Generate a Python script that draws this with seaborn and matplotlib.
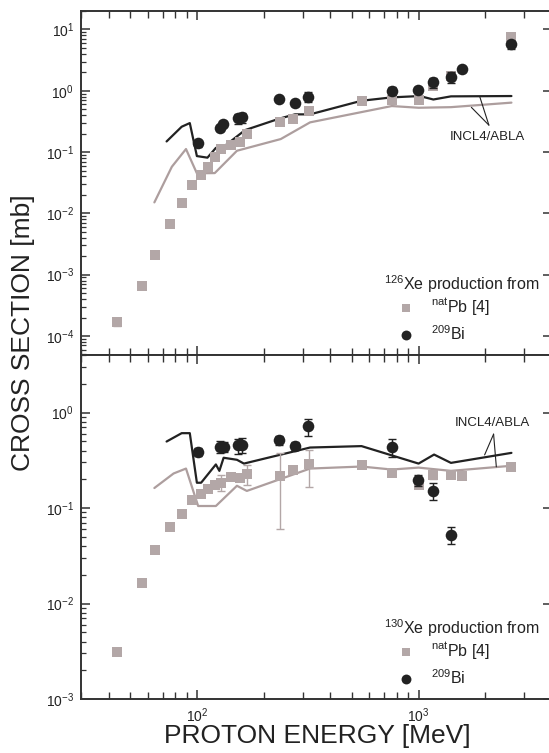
import numpy as np
import matplotlib
matplotlib.use("Agg")
import matplotlib.pyplot as plt
import matplotlib.ticker as mticker
import seaborn as sns

# ---- data ----
# 126Xe (top panel)
pb126_e = [43.5, 56.3, 64.7, 75.5, 85.8, 95.3, 104, 112, 120.4, 128, 142.6, 156, 169,
           237.5, 272, 320, 553, 757, 1000, 1166, 1400, 2624]
pb126_s = [1.67e-4, 6.5e-4, 2.06e-3, 6.8e-3, 0.0147, 0.0286, 0.042, 0.057, 0.082, 0.112,
           0.130, 0.146, 0.199, 0.309, 0.341, 0.467, 0.687, 0.705, 0.705, 1.19, 1.76, 7.6]
pb126_err = [0.2e-4, 0, 0, 0, 0, 0, 0, 0, 0, 0, 0, 0, 0, 0, 0, 0, 0, 0.08, 0, 0.12, 0.2, 1.0]

bi126_e = [101, 127, 131.5, 153, 159, 234, 276, 317, 760, 996, 1166, 1406, 1574, 2624]
bi126_s = [0.138, 0.249, 0.286, 0.354, 0.367, 0.741, 0.62, 0.80, 1.0, 1.03, 1.37, 1.67, 2.23, 5.7]
bi126_err = [0.015, 0.03, 0.03, 0.07, 0.07, 0.05, 0.05, 0.15, 0.15, 0.1, 0.25, 0.35, 0.2, 0.9]

incl_bi126_e = [73, 85.4, 92.9, 100, 111.6, 121.8, 127.7, 164.9, 235, 277, 324, 553, 757,
                1012, 1166, 1400, 2624]
incl_bi126_s = [0.149, 0.259, 0.297, 0.086, 0.081, 0.117, 0.111, 0.228, 0.35, 0.412, 0.412,
                0.687, 0.78, 0.82, 0.72, 0.81, 0.82]
incl_pb126_e = [64.3, 77.1, 89.3, 100, 120.4, 151.6, 239, 324, 757, 1000, 1400, 2624]
incl_pb126_s = [0.0151, 0.0576, 0.112, 0.045, 0.0454, 0.105, 0.163, 0.305, 0.563, 0.528,
                0.54, 0.64]

# 130Xe (bottom panel)
pb130_e = [43.5, 56.3, 64.7, 75.5, 85.8, 95.3, 104, 112, 120.4, 128, 142.6, 156, 169,
           237.5, 272, 320, 553, 757, 1000, 1166, 1400, 1574, 2624]
pb130_s = [3.07e-3, 0.0165, 0.0365, 0.064, 0.0863, 0.121, 0.140, 0.158, 0.173, 0.185,
           0.209, 0.206, 0.226, 0.217, 0.251, 0.288, 0.279, 0.232, 0.176, 0.221, 0.224,
           0.214, 0.272]
pb130_lo = [0, 0, 0, 0, 0, 0, 0, 0, 0, 0.035, 0, 0, 0.05, 0.157, 0, 0.12, 0, 0, 0.012,
            0.02, 0, 0, 0]
pb130_hi = [0, 0, 0, 0, 0, 0, 0, 0, 0, 0.035, 0, 0, 0.055, 0.16, 0, 0.12, 0, 0, 0.012,
            0.02, 0, 0, 0]

bi130_e = [101, 127, 132, 153, 159, 234, 276, 317, 760, 996, 1166, 1406]
bi130_s = [0.388, 0.438, 0.438, 0.452, 0.46, 0.514, 0.448, 0.72, 0.434, 0.197, 0.151, 0.052]
bi130_lo = [0.04, 0.06, 0.05, 0.08, 0.08, 0.06, 0.04, 0.154, 0.09, 0.025, 0.03, 0.01]
bi130_hi = [0.04, 0.06, 0.05, 0.08, 0.08, 0.06, 0.04, 0.145, 0.09, 0.025, 0.03, 0.011]

incl_bi130_e = [73, 85.4, 92.9, 100, 104.5, 121.8, 126.3, 132, 151.6, 163, 324, 553, 1000,
                1175, 1400, 2624]
incl_bi130_s = [0.497, 0.608, 0.608, 0.184, 0.184, 0.286, 0.245, 0.336, 0.32, 0.292, 0.43,
                0.445, 0.292, 0.363, 0.297, 0.378]
incl_pb130_e = [64.3, 78.5, 89.3, 101.3, 121.8, 151.6, 168, 324, 553, 757, 1000, 1400, 2624]
incl_pb130_s = [0.162, 0.23, 0.259, 0.105, 0.105, 0.171, 0.151, 0.259, 0.272, 0.253, 0.265,
                0.245, 0.277]

PB_COL = "#b3a7a7"
PB_LINE = "#ad9e9e"
BI_COL = "#222222"

sns.set_style("ticks")
plt.rcParams["font.family"] = ["Liberation Sans", "DejaVu Sans"]
plt.rcParams["mathtext.fontset"] = "custom"
plt.rcParams["mathtext.rm"] = "Liberation Sans"
plt.rcParams["mathtext.it"] = "Liberation Sans:italic"
plt.rcParams["mathtext.bf"] = "Liberation Sans:bold"
plt.rcParams["xtick.minor.visible"] = True
plt.rcParams["ytick.minor.visible"] = True

fig = plt.figure(figsize=(5.49, 7.53), dpi=100)
ax_top = fig.add_axes([0.1475, 0.5286, 0.858, 0.4568])
ax_bot = fig.add_axes([0.1475, 0.0717, 0.858, 0.4568])


def draw_panel(ax, pb_e, pb_s, pb_err, bi_e, bi_s, bi_err, lb_e, lb_s, lp_e, lp_s):
    ax.set_xscale("log")
    ax.set_yscale("log")
    sns.lineplot(x=lp_e, y=lp_s, ax=ax, color=PB_LINE, lw=1.6, sort=False,
                 estimator=None, legend=False, zorder=2)
    sns.lineplot(x=lb_e, y=lb_s, ax=ax, color=BI_COL, lw=1.6, sort=False,
                 estimator=None, legend=False, zorder=2)
    ax.errorbar(pb_e, pb_s, yerr=pb_err, fmt="none", ecolor=PB_COL, elinewidth=1.0,
                capsize=3, capthick=1.0, zorder=3)
    sns.scatterplot(x=pb_e, y=pb_s, ax=ax, marker="s", s=58, color=PB_COL, linewidth=0,
                    label="$^{\\rm nat}$Pb [4]", zorder=4)
    ax.errorbar(bi_e, bi_s, yerr=bi_err, fmt="none", ecolor=BI_COL, elinewidth=1.0,
                capsize=3, capthick=1.0, zorder=5)
    sns.scatterplot(x=bi_e, y=bi_s, ax=ax, marker="o", s=70, color=BI_COL, linewidth=0,
                    label="$^{209}$Bi", zorder=6)
    ax.set_xlim(30, 4000)
    ax.set_xlabel("")
    ax.set_ylabel("")
    for axis in (ax.xaxis, ax.yaxis):
        axis.set_major_locator(mticker.LogLocator(base=10, numticks=20))
        axis.set_minor_locator(mticker.LogLocator(base=10, subs=np.arange(2, 10) * 1.0,
                                                  numticks=200))
        axis.set_minor_formatter(mticker.NullFormatter())
    ax.tick_params(which="both", direction="in", top=True, right=True, colors="#333333",
                   labelsize=10, labelcolor="#222222")
    ax.tick_params(which="major", length=6.5, width=1.1, pad=5)
    ax.tick_params(axis="x", which="minor", length=5, width=1.0)
    ax.tick_params(axis="y", which="minor", length=3.5, width=0.9, right=False)
    for sp in ax.spines.values():
        sp.set_linewidth(1.4)
        sp.set_color("#333333")
        sp.set_visible(True)


draw_panel(ax_top, pb126_e, pb126_s, pb126_err, bi126_e, bi126_s, bi126_err,
           incl_bi126_e, incl_bi126_s, incl_pb126_e, incl_pb126_s)
draw_panel(ax_bot, pb130_e, pb130_s, [pb130_lo, pb130_hi], bi130_e, bi130_s,
           [bi130_lo, bi130_hi], incl_bi130_e, incl_bi130_s, incl_pb130_e, incl_pb130_s)

ax_top.set_ylim(4.9e-5, 20)
ax_bot.set_ylim(1e-3, 4)
ax_top.tick_params(labelbottom=False)

# model annotations
ax_top.text(2047, 0.178, "INCL4/ABLA", ha="center", va="center", fontsize=9.5,
            color="#222222")
for end in [(1889, 0.798), (1731, 0.536)]:
    ax_top.annotate("", xy=end, xytext=(2076, 0.275),
                    arrowprops=dict(arrowstyle="-", lw=0.8, color="#222222",
                                    shrinkA=0, shrinkB=0))
ax_bot.text(2146, 0.786, "INCL4/ABLA", ha="center", va="center", fontsize=9.5,
            color="#222222")
for end in [(1986, 0.36), (2243, 0.27)]:
    ax_bot.annotate("", xy=end, xytext=(2180, 0.594),
                    arrowprops=dict(arrowstyle="-", lw=0.8, color="#222222",
                                    shrinkA=0, shrinkB=0))

# legends
for ax, iso in [(ax_top, "126"), (ax_bot, "130")]:
    ax.text(0.973, 0.205, "$^{%s}$Xe production from" % iso, transform=ax.transAxes,
            ha="right", va="center", fontsize=11.5, color="#222222")
    ax.legend(loc="center left", bbox_to_anchor=(0.672, 0.104), frameon=False,
              fontsize=11.5, borderpad=0, handlelength=1.0, handletextpad=1.1,
              labelspacing=0.45, borderaxespad=0, labelcolor="#222222",
              markerscale=0.85)

fig.text(0.041, 0.558, "CROSS SECTION [mb]", rotation=90, ha="center", va="center",
         fontsize=19, color="#222222")
fig.text(0.578, 0.022, "PROTON ENERGY [MeV]", ha="center", va="center",
         fontsize=19, color="#222222")

fig.savefig("out.png", dpi=100)
